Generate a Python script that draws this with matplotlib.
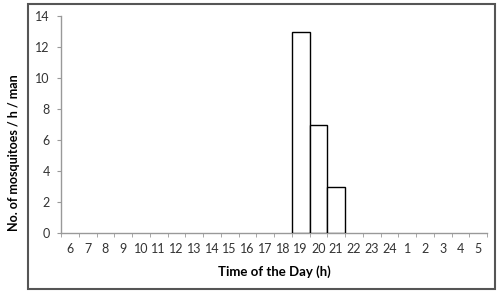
import matplotlib
matplotlib.use("Agg")
import matplotlib.pyplot as plt
from matplotlib.patches import Rectangle

hours = ["6","7","8","9","10","11","12","13","14","15","16","17","18","19","20","21","22","23","24","1","2","3","4","5"]
counts = [0,0,0,0,0,0,0,0,0,0,0,0,0,13,7,3,0,0,0,0,0,0,0,0]

plt.rcParams['font.family'] = ['Lato', 'DejaVu Sans']

fig = plt.figure(figsize=(5.0, 2.93), dpi=100)
fig.patch.set_facecolor('white')
ax = fig.add_axes([0.122, 0.2048, 0.852, 0.7402])

x = list(range(len(hours)))
vals = [c if c > 0 else float('nan') for c in counts]
ax.bar(x, vals, width=1.0, facecolor='white', edgecolor='black', linewidth=1.0, zorder=3)

ax.set_xlim(-0.5, len(hours) - 0.5)
ax.set_ylim(0, 14)
ax.set_yticks(range(0, 15, 2))
ax.set_xticks(x)
ax.set_xticklabels(hours)
ax.set_xticks([i - 0.5 for i in range(len(hours) + 1)], minor=True)
ax.tick_params(axis='x', which='major', length=0, pad=7, labelsize=9, labelcolor='#333333')
ax.tick_params(axis='x', which='minor', length=3, color='#999999', direction='out')
ax.tick_params(axis='y', length=3, color='#999999', labelsize=9, labelcolor='#333333', pad=5)

for s in ['top', 'right']:
    ax.spines[s].set_visible(False)
for s in ['left', 'bottom']:
    ax.spines[s].set_color('#999999')
    ax.spines[s].set_linewidth(1.0)

ax.set_xlabel('Time of the Day (h)', fontsize=9.5, fontweight='bold', va='center')
ax.xaxis.set_label_coords(0.5, -0.18)
ax.set_ylabel('No. of mosquitoes / h / man', fontsize=9, fontweight='bold', va='center')
ax.yaxis.set_label_coords(-0.111, 0.37)

fig.patches.append(Rectangle((28/500, 1 - 289/293), (495-28)/500, (289-4)/293,
                             transform=fig.transFigure, fill=False,
                             edgecolor='#555555', linewidth=1.5))

fig.savefig('out.png', dpi=100)
